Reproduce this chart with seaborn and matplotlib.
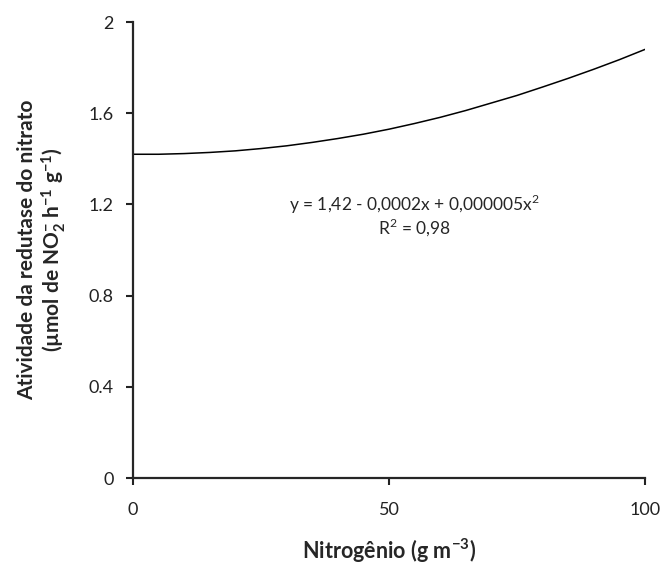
import matplotlib
matplotlib.use("Agg")
import matplotlib.pyplot as plt
import seaborn as sns
import pandas as pd

# values
nitrogen = [0, 5, 10, 15, 20, 25, 30, 35, 40, 45, 50,
            55, 60, 65, 70, 75, 80, 85, 90, 95, 100]
activity = [1.420, 1.420, 1.423, 1.428, 1.435, 1.445, 1.457, 1.472, 1.489, 1.508, 1.530,
            1.555, 1.582, 1.612, 1.645, 1.678, 1.715, 1.753, 1.793, 1.835, 1.880]
y_ticks = [0, 0.4, 0.8, 1.2, 1.6, 2]
y_tick_labels = ["0", "0.4", "0.8", "1.2", "1.6", "2"]
x_ticks = [0, 50, 100]

equation = "y = 1,42 - 0,0002x + 0,000005x$^2$"
r2_text = "R$^2$ = 0,98"

sns.set_style("ticks")
plt.rcParams["font.family"] = ["Lato", "DejaVu Sans"]
plt.rcParams["mathtext.fontset"] = "custom"
plt.rcParams["mathtext.rm"] = "Lato"
plt.rcParams["mathtext.bf"] = "Lato:bold"

df = pd.DataFrame({"x": nitrogen, "y": activity})

fig = plt.figure(figsize=(6.65, 5.72), dpi=100)
ax = fig.add_axes([0.2, 0.1643, 0.77, 0.7972])

sns.lineplot(data=df, x="x", y="y", ax=ax, color="black", linewidth=1.1)

ax.set_xlim(0, 100)
ax.set_ylim(0, 2)
ax.set_xticks(x_ticks)
ax.set_yticks(y_ticks)
ax.set_yticklabels(y_tick_labels)
ax.tick_params(axis="both", direction="out", length=5, width=1.5,
               labelsize=13, colors="#222222", pad=9)
ax.tick_params(axis="x", pad=12)
for side in ["left", "bottom"]:
    ax.spines[side].set_linewidth(1.6)
sns.despine(ax=ax)

ax.text(55, 1.20, equation, ha="center", va="center", fontsize=12.5)
ax.text(55, 1.10, r2_text, ha="center", va="center", fontsize=12.5)

ax.set_xlabel(r"Nitrogênio (g m$\mathbf{^{-3}}$)", fontsize=15.5, fontweight="bold", labelpad=14)
ax.set_ylabel("Atividade da redutase do nitrato\n"
              r"(µmol de NO$\mathbf{_2^{-}}$ h$\mathbf{^{-1}}$ g$\mathbf{^{-1}}$)",
              fontsize=15, fontweight="bold", labelpad=15, linespacing=1.1)

fig.savefig("out.png", dpi=100)
